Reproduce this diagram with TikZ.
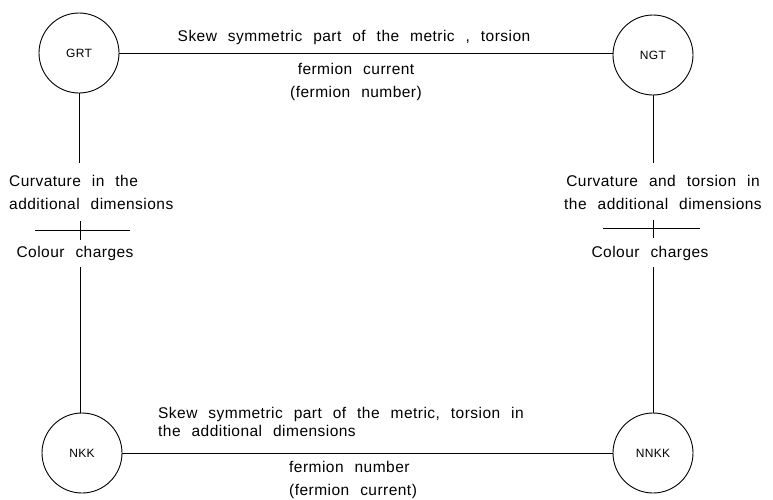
\documentclass[tikz,border=0pt]{standalone}
\usepackage{fontspec}
\setmainfont{Liberation Sans}[LetterSpace=3,WordSpace=2.3]
\begin{document}
\begin{tikzpicture}[x=1pt,y=-1pt,
  thy/.style={circle,draw,line width=0.9pt,minimum size=80pt,inner sep=0pt,font=\fontsize{12}{12}\selectfont},
  lbl/.style={inner sep=0pt,font=\fontsize{15.5}{23}\selectfont},
  ln/.style={line width=0.9pt}]
\useasboundingbox (0,0) rectangle (773,499);
\node[thy] (grt) at (79,53) {GRT};
\node[thy] (ngt) at (653,55) {NGT};
\node[thy] (nkk) at (82,453) {NKK};
\node[thy] (nnkk) at (653,453) {NNKK};
% top
\draw[ln] (grt.east) -- (grt.east -| ngt.west);
\node[lbl] (t1) at (354,37) {Skew symmetric part of the metric , torsion};
\node[lbl,align=center] (t2) at (356,82) {fermion current\\(fermion number)};
% left
\coordinate (l1) at (80,163);
\coordinate (l2) at (80,267);
\draw[ln] (grt.south) -- (grt.south |- l1);
\draw[ln] (l2) -- (l2 |- nkk.north);
\node[lbl,align=left,anchor=west] (lc) at (9,192) {Curvature in the\\additional dimensions};
\coordinate (lb1) at (35,230);
\coordinate (lb2) at (130,230);
\draw[ln] (lb1) -- (lb2);
\coordinate (lt1) at (80,221);
\coordinate (lt2) at (80,240);
\draw[ln] (lt1) -- (lt2);
\node[lbl] (lcc) at (75,253) {Colour charges};
% right
\coordinate (r1) at (653,163);
\coordinate (r2) at (653,267);
\draw[ln] (ngt.south) -- (ngt.south |- r1);
\draw[ln] (r2) -- (r2 |- nnkk.north);
\node[lbl,align=center] (rc) at (663,192) {Curvature and torsion in\\the additional dimensions};
\coordinate (rb1) at (603,228);
\coordinate (rb2) at (700,228);
\draw[ln] (rb1) -- (rb2);
\coordinate (rt1) at (653,220);
\coordinate (rt2) at (653,238);
\draw[ln] (rt1) -- (rt2);
\node[lbl] (rcc) at (650,253) {Colour charges};
% bottom
\draw[ln] (nkk.east) -- (nkk.east -| nnkk.west);
\node[lbl,align=left,anchor=north west,font=\fontsize{15.5}{18}\selectfont] (b1) at (158,407) {Skew symmetric part of the metric, torsion in\\the additional dimensions};
\node[lbl,align=left,anchor=north west] (b2) at (289,461) {fermion number\\(fermion current)};
\end{tikzpicture}
\end{document}
